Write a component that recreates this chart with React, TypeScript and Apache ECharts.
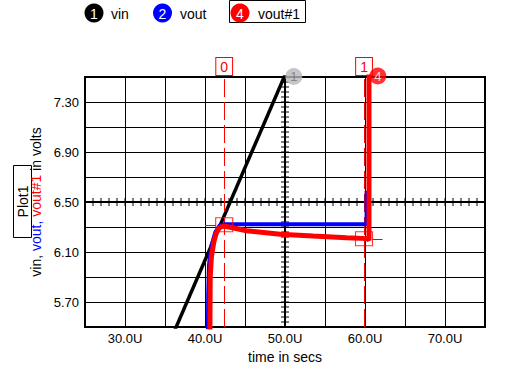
import React, { useEffect, useRef } from 'react';
import * as echarts from 'echarts';

const FONT = 'Liberation Sans, Arial, sans-serif';

// axes
const xMin = 25;
const xMax = 75;
const xStep = 5;
const yMin = 5.5;
const yMax = 7.5;
const yStep = 0.2;

// centre cross (scope style axes)
const crossX = 50;
const crossY = 6.5;
const crossXTick = 1;
const crossYTick = 0.04;

// traces [time (U), volts]
const vinData = [
  [35.0, 5.293],
  [50.57, 7.6],
];
const voutData = [
  [40.35, 5.3],
  [40.4, 5.75],
  [40.5, 6.0],
  [40.8, 6.15],
  [41.3, 6.26],
  [41.8, 6.31],
  [42.4, 6.322],
  [60.15, 6.322],
  [60.2, 6.33],
  [60.2, 6.59],
];
const vout1Data = [
  [40.6, 5.3],
  [40.65, 5.9],
  [40.8, 6.06],
  [41.1, 6.18],
  [41.4, 6.25],
  [41.8, 6.295],
  [42.3, 6.308],
  [43.0, 6.3],
  [45.2, 6.27],
  [49.4, 6.242],
  [53.5, 6.228],
  [57.7, 6.214],
  [60.3, 6.207],
  [60.5, 6.195],
  [60.5, 7.8],
];

// cursors
const cursorX = [42.4, 59.875];
const cursorNames = ['0', '1'];
const cursorY = [6.318, 6.206];
const cursorHairFrom = [40.0, 60.96];
const cursorHairTo = [41.34, 62.2];

// trace end markers
const markerX = [51.1, 61.6];
const markerY = [7.504, 7.508];
const markerNames = ['1', '4'];

export default function App() {
  const ref = useRef<HTMLDivElement>(null);
  useEffect(() => {
    if (!ref.current) return;
    const chart = echarts.init(ref.current, undefined, { renderer: 'svg' });
    const option: any = {
      animation: false,
      backgroundColor: '#fff',
      textStyle: { fontFamily: FONT },
      grid: {
        left: 85,
        top: 77,
        width: 400,
        height: 250,
        show: true,
        borderColor: '#000',
        borderWidth: 2,
        backgroundColor: '#fff',
      },
      xAxis: {
        type: 'value',
        min: xMin,
        max: xMax,
        interval: xStep,
        name: 'time in secs',
        nameLocation: 'middle',
        nameGap: 20,
        nameTextStyle: { fontSize: 14, color: '#000', fontFamily: FONT },
        axisLine: { show: false },
        axisTick: { show: false },
        splitLine: { show: true, lineStyle: { color: '#000', width: 1 } },
        axisLabel: {
          color: '#000',
          fontSize: 13,
          fontFamily: FONT,
          margin: 5,
          formatter: (v: number) => (Math.round(v) % 10 === 0 ? v.toFixed(1) + 'U' : ''),
        },
      },
      yAxis: {
        type: 'value',
        min: yMin,
        max: yMax,
        interval: yStep,
        name: '{k|vin, }{b|vout, }{r|vout#1}{k| in volts}',
        nameLocation: 'middle',
        nameRotate: 90,
        nameGap: 38,
        nameTextStyle: {
          fontSize: 14,
          fontFamily: FONT,
          rich: {
            k: { color: '#000', fontSize: 14, fontFamily: FONT },
            b: { color: '#0000ff', fontSize: 14, fontFamily: FONT },
            r: { color: '#ff0000', fontSize: 14, fontFamily: FONT },
          },
        },
        axisLine: { show: false },
        axisTick: { show: false },
        splitLine: { show: true, lineStyle: { color: '#000', width: 1 } },
        axisLabel: {
          color: '#000',
          fontSize: 13,
          fontFamily: FONT,
          margin: 6,
          formatter: (v: number) => (Math.round(v * 10) % 4 === 1 ? v.toFixed(2) : ''),
        },
      },
      series: [
        {
          type: 'custom',
          name: 'cross',
          silent: true,
          z: 3,
          data: [[crossX, crossY]],
          renderItem: (_p: any, api: any) => {
            const children: any[] = [];
            const [xa, yc] = api.coord([xMin, crossY]);
            const [xb] = api.coord([xMax, crossY]);
            const [xc, ya] = api.coord([crossX, yMin]);
            const [, yb] = api.coord([crossX, yMax]);
            children.push({ type: 'line', shape: { x1: xa, y1: yc, x2: xb, y2: yc }, style: { stroke: '#000', lineWidth: 2 } });
            children.push({ type: 'line', shape: { x1: xc, y1: ya, x2: xc, y2: yb }, style: { stroke: '#000', lineWidth: 2 } });
            const nx = Math.round((xMax - xMin) / crossXTick);
            for (let i = 0; i <= nx; i++) {
              const [px] = api.coord([xMin + i * crossXTick, crossY]);
              children.push({ type: 'line', shape: { x1: px, y1: yc - 4, x2: px, y2: yc + 4 }, style: { stroke: '#000', lineWidth: 1 } });
            }
            const ny = Math.round((yMax - yMin) / crossYTick);
            for (let i = 0; i <= ny; i++) {
              const [, py] = api.coord([crossX, yMin + i * crossYTick]);
              children.push({ type: 'line', shape: { x1: xc - 4, y1: py, x2: xc + 4, y2: py }, style: { stroke: '#000', lineWidth: 1 } });
            }
            return { type: 'group', children };
          },
        },
        {
          type: 'line',
          name: 'vin',
          data: vinData,
          showSymbol: false,
          symbol: 'none',
          clip: true,
          z: 4,
          lineStyle: { color: '#000', width: 3.5 },
        },
        {
          type: 'line',
          name: 'vout',
          data: voutData,
          symbol: 'none',
          clip: true,
          z: 5,
          lineStyle: { color: '#0000ff', width: 4 },
        },
        {
          type: 'line',
          name: 'vout#1',
          data: vout1Data,
          symbol: 'none',
          clip: true,
          z: 6,
          lineStyle: { color: '#ff0000', width: 5 },
        },
        {
          type: 'scatter',
          name: 'cursors',
          z: 7,
          symbol: 'rect',
          symbolSize: [17, 14],
          clip: false,
          itemStyle: { color: 'rgba(0,0,0,0)', borderColor: '#ff0000', borderWidth: 1 },
          data: cursorX.map((x, i) => [x, cursorY[i]]),
          markLine: {
            silent: true,
            symbol: 'none',
            animation: false,
            lineStyle: { color: '#ff0000', width: 1, type: [18, 5] },
            label: {
              show: true,
              position: 'end',
              distance: 2,
              color: '#ff0000',
              fontSize: 14,
              fontFamily: FONT,
              backgroundColor: '#fff',
              borderColor: '#ff0000',
              borderWidth: 1,
              padding: [2, 4, 1, 4],
            },
            data: [
              ...cursorX.map((x, i) => ({ xAxis: x, label: { formatter: cursorNames[i] } })),
              ...cursorHairFrom.map((x, i) => [
                { coord: [x, cursorY[i]], lineStyle: { type: 'solid' }, label: { show: false } },
                { coord: [cursorHairTo[i], cursorY[i]] },
              ]),
            ],
          },
        },
        {
          type: 'scatter',
          name: 'markers',
          z: 8,
          clip: false,
          symbol: 'circle',
          symbolSize: 17,
          data: markerX.map((x, i) => ({
            value: [x, markerY[i]],
            itemStyle: i === 0 ? { color: '#b8b8b8' } : { color: '#ff0000' },
            label: {
              show: true,
              position: 'inside',
              formatter: markerNames[i],
              color: i === 0 ? '#777' : '#fff',
              fontSize: 13,
              fontFamily: FONT,
            },
          })),
        },
      ],
      graphic: [
        { type: 'circle', shape: { cx: 94, cy: 13, r: 9.5 }, style: { fill: '#000' } },
        { type: 'text', x: 94, y: 13.5, style: { text: '1', fill: '#fff', font: '14px ' + FONT, align: 'center', verticalAlign: 'middle' } },
        { type: 'text', x: 111, y: 13.5, style: { text: 'vin', fill: '#000', font: '14px ' + FONT, verticalAlign: 'middle' } },
        { type: 'circle', shape: { cx: 162.5, cy: 13, r: 9.5 }, style: { fill: '#0000ff' } },
        { type: 'text', x: 162.5, y: 13.5, style: { text: '2', fill: '#fff', font: '14px ' + FONT, align: 'center', verticalAlign: 'middle' } },
        { type: 'text', x: 180, y: 13.5, style: { text: 'vout', fill: '#000', font: '14px ' + FONT, verticalAlign: 'middle' } },
        { type: 'rect', shape: { x: 229.5, y: 0.5, width: 76, height: 22 }, style: { fill: '#fff', stroke: '#000', lineWidth: 1 } },
        { type: 'circle', shape: { cx: 240, cy: 13, r: 9.5 }, style: { fill: '#ff0000' } },
        { type: 'text', x: 240, y: 13.5, style: { text: '4', fill: '#fff', font: '14px ' + FONT, align: 'center', verticalAlign: 'middle' } },
        { type: 'text', x: 258, y: 13.5, style: { text: 'vout#1', fill: '#000', font: '14px ' + FONT, verticalAlign: 'middle' } },
        { type: 'rect', shape: { x: 13.5, y: 165.5, width: 18, height: 72 }, style: { fill: '#fff', stroke: '#000', lineWidth: 1 } },
        { type: 'text', x: 23, y: 201.5, rotation: Math.PI / 2, style: { text: 'Plot1', fill: '#000', font: '14px ' + FONT, align: 'center', verticalAlign: 'middle' } },
      ],
    };
    chart.setOption(option);
    return () => chart.dispose();
  }, []);
  return <div ref={ref} style={{ position: 'fixed', left: 0, top: 0, width: 514, height: 371 }} />;
}
